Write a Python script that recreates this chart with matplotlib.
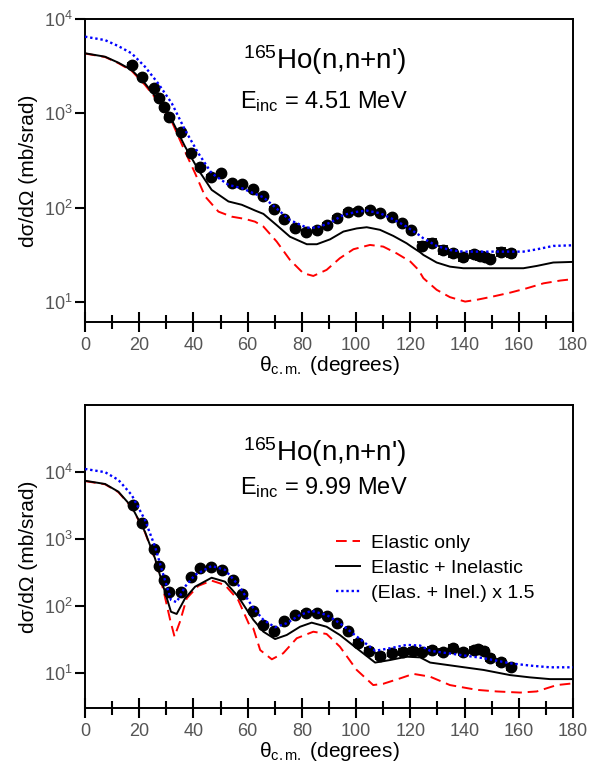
import numpy as np
import matplotlib
matplotlib.use("Agg")
import matplotlib.pyplot as plt
from matplotlib.ticker import MultipleLocator, NullLocator

plt.rcParams['font.family'] = ['Liberation Sans', 'DejaVu Sans']
plt.rcParams['mathtext.fontset'] = 'custom'
plt.rcParams['mathtext.rm'] = 'Liberation Sans'
plt.rcParams['mathtext.it'] = 'Liberation Sans'
plt.rcParams['mathtext.default'] = 'regular'

# ---- 4.51 MeV ----
exp_ang_1 = [17.2, 20.9, 25.4, 27.3, 29.1, 31.1, 35.3, 39.1, 42.4, 46.4, 50.2,
             54.3, 57.8, 62.1, 65.8, 69.7, 73.4, 77.4, 81.5, 85.5, 89.1, 93.1,
             96.9, 100.8, 105.1, 108.8, 113.1, 117.0, 120.1, 124.2, 127.9,
             131.9, 135.6, 139.3, 143.5, 145.7, 147.5, 149.4, 153.3, 157.0]
exp_xs_1 = [3250, 2410, 1840, 1440, 1160, 920, 638, 382, 267, 213, 231,
            184, 178, 156, 133, 97.5, 75, 60, 55.6, 58, 65, 78,
            90.5, 92, 93.6, 88, 80, 69, 58, 39.5, 42.5,
            35.5, 32.7, 29.7, 32, 30.8, 29.7, 28.7, 33.8, 32.7]
exp_err_1 = [4, 4, 4, 4, 4, 4, 4, 4, 4, 4, 4,
             4, 4, 4, 4, 4, 4, 4, 5, 5, 5, 5,
             5, 5, 5, 5, 5, 5, 5, 9, 9,
             9, 9, 9, 9, 9, 9, 9, 9, 9]  # percent

el_ang_1 = [0, 7.4, 12.3, 17.2, 22.1, 27.0, 32.0, 36.9, 40.6, 44.3, 49.2, 54.1,
            59.0, 62.7, 65.8, 70.7, 75.6, 80.5, 84.2, 89.1, 94.0, 99.0, 105.1,
            110.0, 114.9, 120.0, 123.0, 124.8, 129.7, 134.6, 140.2, 144.5,
            150.6, 156.8, 162.9, 169.1, 175.3, 180]
el_xs_1 = [4300, 3950, 3400, 2820, 2000, 1330, 815, 392, 231, 131, 90.5, 80,
           75.7, 70.8, 62.8, 43.5, 27.8, 20.1, 18.8, 21.8, 29, 36.1, 40.1,
           38.5, 32.7, 26.7, 21.8, 17.8, 13.4, 11.2, 10.05, 10.5,
           11.4, 12.5, 13.9, 15.7, 16.8, 17.4]

tot_ang_1 = [0, 7.4, 12.3, 17.2, 22.1, 27.0, 32.0, 36.9, 41.8, 46.7, 52.9, 57.8,
             60.9, 62.7, 65.8, 70.7, 75.6, 81.8, 85.5, 90.4, 95.3, 100.2,
             103.9, 108.8, 113.7, 118.6, 120.0, 123.6, 124.8, 129.7, 134.6,
             139.5, 149.4, 161.7, 166.6, 172.7, 180]
tot_xs_1 = [4330, 3980, 3440, 2880, 2080, 1380, 850, 443, 251, 154, 116, 107,
            98, 93, 85.6, 65, 49, 40.8, 40.8, 46, 55.6, 60,
            61.8, 58, 50, 41.8, 39.2, 33.5, 31.4, 26.1, 23.6,
            22.7, 22.7, 22.7, 24, 26.1, 26.5]

# ---- 9.99 MeV ----
exp_ang_2 = [17.6, 21.1, 25.5, 27.3, 29.3, 31.1, 35.3, 39.0, 42.4, 46.5, 50.4,
             54.5, 58.0, 62.1, 65.8, 69.8, 73.4, 77.4, 81.5, 85.5, 89.1, 93.1,
             97.1, 100.8, 104.9, 108.8, 113.1, 117.2, 121.1, 124.2, 127.9,
             131.9, 135.6, 139.3, 143.5, 145.1, 147.2, 149.4, 153.3, 157.0]
exp_xs_2 = [3210, 1720, 710, 400, 244, 164, 164, 274, 365, 386, 344,
            244, 150, 84, 52, 42.8, 60, 73.5, 79.4, 79.4, 71, 55,
            42.8, 28.3, 21.5, 18.1, 19.7, 20.8, 21.5, 20.8, 22,
            20.8, 23.4, 20.8, 22, 22.6, 21.5, 16.6, 14.5, 12.2]
exp_err_2 = [4, 4, 4, 4, 4, 4, 4, 4, 4, 4, 4,
             4, 4, 4, 4, 4, 4, 4, 5, 5, 5, 5,
             6, 8, 9, 10, 10, 10, 10, 10, 10,
             10, 10, 10, 10, 10, 10, 10, 10, 10]  # percent

el_ang_2 = [0, 7.4, 12.3, 17.2, 22.1, 25.8, 28.9, 31.4, 33.0, 35.0, 37.5, 41.8,
            46.7, 51.6, 56.5, 60.9, 62.1, 64.6, 68.9, 73.1, 78.1, 84.2, 89.1,
            94.0, 100.2, 106.3, 110.0, 116.2, 121.1, 127.3, 134.6, 144.5,
            151.9, 160.5, 166.6, 174.0, 180]
el_xs_2 = [7300, 6550, 5000, 2980, 1260, 500, 173, 62, 35, 58, 130, 200,
           239, 206, 123, 49, 46, 22, 16, 19.7, 33, 41.3, 38.2,
           24.7, 11.1, 6.6, 6.9, 8.3, 9.7, 8.8, 6.6, 5.6,
           5.3, 5.1, 5.3, 6.6, 7.0]

tot_ang_2 = [0, 7.4, 12.3, 17.2, 22.1, 25.8, 28.9, 31.7, 33.8, 36.9, 40.6, 46.7,
             51.6, 56.5, 60.9, 62.1, 65.8, 70.1, 74.4, 79.3, 83.6, 89.1, 94.0,
             100.2, 107.0, 112.5, 118.6, 123.6, 127.3, 138.3, 147.0, 156.8,
             164.1, 171.5, 180]
tot_xs_2 = [7400, 6620, 5080, 3030, 1285, 515, 194, 82, 76, 130, 194, 264,
            231, 138, 73.5, 62, 41.3, 32.1, 36.9, 49, 56.4, 49, 36.9,
            23.4, 14.3, 15.6, 17.5, 17.1, 14.3, 12.4, 11.1, 9.3,
            8.6, 8.1, 8.1]

scale = 1.5


def draw_panel(ax, ang, xs, err, el_ang, el_xs, tot_ang, tot_xs, energy, ylim,
               title_y, energy_y):
    ang = np.array(ang)
    xs = np.array(xs)
    yerr = xs * np.array(err) / 100.0
    tot_ang = np.array(tot_ang)
    tot_xs = np.array(tot_xs)

    ax.plot(el_ang, el_xs, color='red', ls=(0, (5.5, 3)), lw=1.4, zorder=2,
            label='Elastic only')
    ax.plot(tot_ang, tot_xs, color='black', ls='-', lw=1.4, zorder=2,
            label='Elastic + Inelastic')
    ax.errorbar(ang, xs, yerr=yerr, fmt='o', color='black', ms=7.5,
                elinewidth=1.3, capsize=3.5, capthick=1.3, zorder=3)
    ax.plot(tot_ang, tot_xs * scale, color='blue', ls=(0, (1, 1.2)), lw=1.7,
            zorder=4, label='(Elas. + Inel.) x 1.5')

    ax.set_yscale('log')
    ax.set_xlim(0, 180)
    ax.set_ylim(*ylim)
    ax.set_yticks([1e1, 1e2, 1e3, 1e4])
    ax.yaxis.set_minor_locator(NullLocator())
    ax.xaxis.set_major_locator(MultipleLocator(20))
    ax.xaxis.set_minor_locator(MultipleLocator(10))

    ax.tick_params(axis='x', which='major', direction='inout', length=15,
                   width=1.5, labelsize=13, labelcolor='#555555', pad=3)
    ax.tick_params(axis='x', which='minor', direction='inout', length=10,
                   width=1.5)
    ax.tick_params(axis='y', which='major', direction='out', length=7,
                   width=1.5, labelsize=13, labelcolor='#555555', pad=2)
    for sp in ax.spines.values():
        sp.set_linewidth(1.4)

    ax.set_xlabel(r'θ$_\mathrm{c.m.}$ (degrees)', fontsize=15, labelpad=0)
    ax.set_ylabel('dσ/dΩ (mb/srad)', fontsize=15, labelpad=4)

    ax.text(0.49, title_y, r"$^{165}$Ho(n,n+n')", transform=ax.transAxes,
            ha='center', va='center', fontsize=20)
    ax.text(0.49, energy_y, r'E$_{inc}$ = ' + energy, transform=ax.transAxes,
            ha='center', va='center', fontsize=17)


fig = plt.figure(figsize=(6.06, 7.66), dpi=100)
ax1 = fig.add_axes([0.1403, 0.5796, 0.8053, 0.3956])
ax2 = fig.add_axes([0.1403, 0.0757, 0.8053, 0.3956])

draw_panel(ax1, exp_ang_1, exp_xs_1, exp_err_1, el_ang_1, el_xs_1,
           tot_ang_1, tot_xs_1, '4.51 MeV', (6.1, 1e4), 0.865, 0.726)
draw_panel(ax2, exp_ang_2, exp_xs_2, exp_err_2, el_ang_2, el_xs_2,
           tot_ang_2, tot_xs_2, '9.99 MeV', (3.0, 1e5), 0.845, 0.729)

handles, labels = ax2.get_legend_handles_labels()
ax2.legend(handles, labels, loc='upper left', bbox_to_anchor=(0.515, 0.572),
           frameon=False, fontsize=14, handlelength=1.2, handletextpad=0.6,
           labelspacing=0.38, borderpad=0, borderaxespad=0)

fig.savefig('out.png', dpi=100)
